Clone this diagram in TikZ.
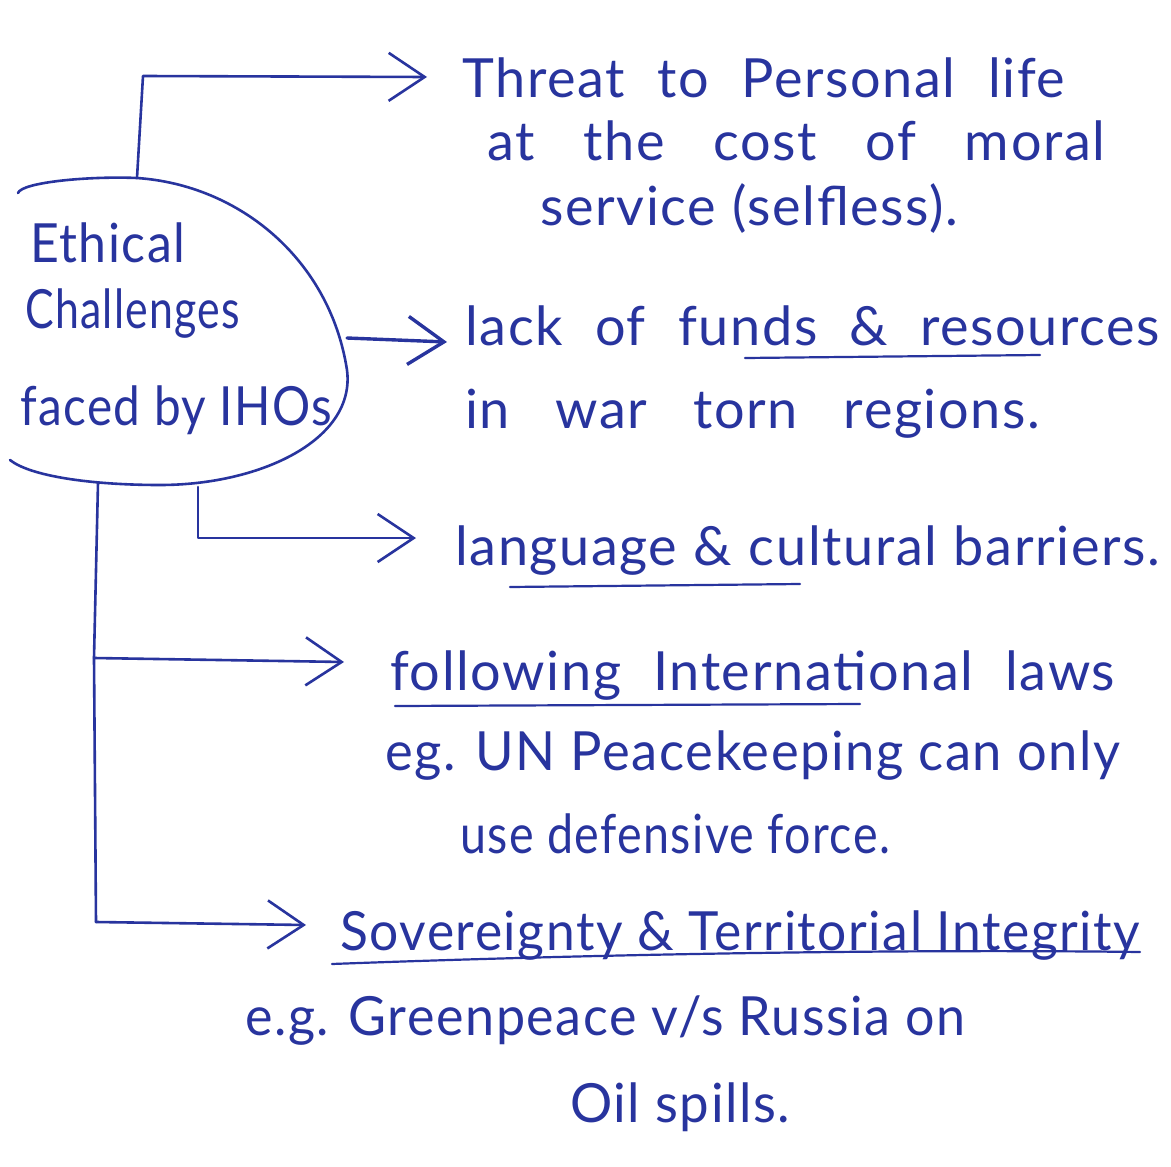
\documentclass[tikz,border=0pt]{standalone}
\usepackage{fontspec}
\setmainfont{Lato}[LetterSpace=3]
\usetikzlibrary{arrows.meta}
\definecolor{pen}{RGB}{40,52,158}
\newlength\hwlen
\newcommand{\hw}[2]{\settowidth{\hwlen}{#2}\ifdim\hwlen>#1pt\resizebox{#1pt}{\height}{#2}\else\makebox[#1pt][s]{#2}\fi}
\begin{document}
\begin{tikzpicture}[x=1pt,y=-1pt,
  txt/.style={anchor=base west, inner sep=0pt, text=pen, font=\fontsize{54}{60}\selectfont},
  ink/.style={draw=pen, line width=2.6pt, line cap=round, line join=round},
  conn/.style={ink, -{Straight Barb[length=36pt,width=48pt]}},
  uline/.style={draw=pen, line width=2.2pt, line cap=round}]
\useasboundingbox[fill=white] (0,0) rectangle (1171,1167);

% central bubble
\draw[ink] (18,193) .. controls (22,182) and (90,176) .. (137,178)
  .. controls (240,185) and (330,260) .. (347,370)
  .. controls (356,440) and (260,485) .. (160,485)
  .. controls (90,485) and (30,476) .. (10,460);
\node[txt] (e1) at (30,262) {\hw{155}{Ethical}};
\node[txt] (e2) at (25,328) {\hw{215}{Challenges}};
\node[txt] (e3) at (20,425) {\hw{312}{faced by IHOs}};

% branch texts
\node[txt] (t1) at (462,97) {\hw{603}{Threat to Personal life}};
\node[txt] (t1b) at (487,160) {\hw{618}{at the cost of moral}};
\node[txt] (t1c) at (540,225) {\hw{418}{service (selfless).}};

\node[txt] (t2) at (465,345) {\hw{695}{lack of funds \& resources}};
\node[txt] (t2b) at (465,428) {\hw{575}{in war torn regions.}};

\node[txt] (t3) at (455,565) {\hw{705}{language \& cultural barriers.}};

\node[txt] (t4) at (390,690) {\hw{725}{following International laws}};
\node[txt] (t4b) at (385,770) {\hw{735}{eg. UN Peacekeeping can only}};
\node[txt] (t4c) at (460,853) {\hw{430}{use defensive force.}};

\node[txt] (t5) at (340,950) {\hw{800}{Sovereignty \& Territorial Integrity}};
\node[txt] (t5b) at (245,1035) {\hw{720}{e.g. Greenpeace v/s Russia on}};
\node[txt] (t5c) at (570,1122) {\hw{220}{Oil spills.}};

% underlines
\draw[uline] (745,358) -- (1040,355);
\draw[uline] (510,587) -- (800,584);
\draw[uline] (395,706) -- (860,704);
\draw[uline] (332,964) .. controls (600,954) and (900,949) .. (1140,952);

% connector anchors
\coordinate (b1) at (137,178);
\coordinate (k1) at (143,76);
\coordinate (a1) at (427,77);
\coordinate (b2) at (347,338);
\coordinate (a2) at (447,342);
\coordinate (b3) at (198,487);
\coordinate (k3) at (198,538);
\coordinate (a3) at (416,538);
\coordinate (b4) at (98,483);
\coordinate (k4) at (94,658);
\coordinate (a4) at (344,662);
\coordinate (k5) at (96,922);
\coordinate (a5) at (306,925);

\draw[conn] (b1) -- (k1) -- (a1);
\draw[conn, line width=3.4pt] (b2) -- (a2);
\draw[conn] (b3) -- (k3) -- (a3);
\draw[ink] (b4) -- (k4) -- (k5);
\draw[conn] (k4) -- (a4);
\draw[conn] (k5) -- (a5);
\end{tikzpicture}
\end{document}
